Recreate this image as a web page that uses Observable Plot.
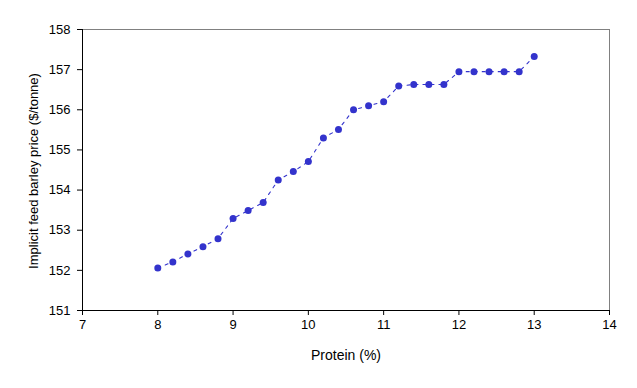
<!DOCTYPE html>
<html>
<head>
<meta charset="utf-8">
<script src="https://cdn.jsdelivr.net/npm/d3@7"></script>
<script src="https://cdn.jsdelivr.net/npm/@observablehq/plot@0.6"></script>
<style>
  html, body { margin: 0; padding: 0; background: #fff; }
  svg { display: block; }
</style>
</head>
<body>
<div id="chart"></div>
<script>
const protein = [8.0, 8.2, 8.4, 8.6, 8.8, 9.0, 9.2, 9.4, 9.6, 9.8, 10.0, 10.2, 10.4, 10.6, 10.8, 11.0, 11.2, 11.4, 11.6, 11.8, 12.0, 12.2, 12.4, 12.6, 12.8, 13.0];
const price = [152.06, 152.21, 152.41, 152.59, 152.79, 153.29, 153.49, 153.69, 154.25, 154.46, 154.71, 155.30, 155.51, 156.00, 156.10, 156.20, 156.59, 156.63, 156.63, 156.63, 156.95, 156.95, 156.95, 156.95, 156.95, 157.33];
const xTicks = [7, 8, 9, 10, 11, 12, 13, 14];
const yTicks = [151, 152, 153, 154, 155, 156, 157, 158];

const data = protein.map((p, i) => ({protein: p, price: price[i]}));
const color = "#3333cc";

const chart = Plot.plot({
  width: 637,
  height: 388,
  marginLeft: 82,
  marginRight: 28,
  marginTop: 29,
  marginBottom: 78,
  style: {fontFamily: "'Liberation Sans', Arial, sans-serif", fontSize: "13px", color: "#000", background: "#fff"},
  x: {domain: [7, 14]},
  y: {domain: [151, 158]},
  marks: [
    Plot.frame({stroke: "#808080"}),
    Plot.axisY(yTicks, {tickSize: 5, tickPadding: 7, fontSize: 13, label: null, stroke: "#000"}),
    Plot.axisX(xTicks, {tickSize: 5, tickPadding: 4, fontSize: 13, label: null, stroke: "#000"}),
    Plot.ruleX([7], {stroke: "#000"}),
    Plot.ruleY([151], {stroke: "#000"}),
    Plot.line(data, {x: "protein", y: "price", stroke: color, strokeWidth: 1.1, strokeDasharray: "3,5"}),
    Plot.dot(data, {x: "protein", y: "price", r: 3.5, fill: color, stroke: "none"})
  ]
});

// axis titles as real text
const svg = d3.select(chart);
svg.append("text")
  .attr("x", 346)
  .attr("y", 360)
  .attr("text-anchor", "middle")
  .attr("font-size", 14)
  .attr("fill", "#000")
  .text("Protein (%)");
svg.append("text")
  .attr("transform", `translate(38, 171) rotate(-90)`)
  .attr("text-anchor", "middle")
  .attr("font-size", 13)
  .attr("fill", "#000")
  .text("Implicit feed barley price ($/tonne)");

document.getElementById("chart").appendChild(chart);
</script>
</body>
</html>
